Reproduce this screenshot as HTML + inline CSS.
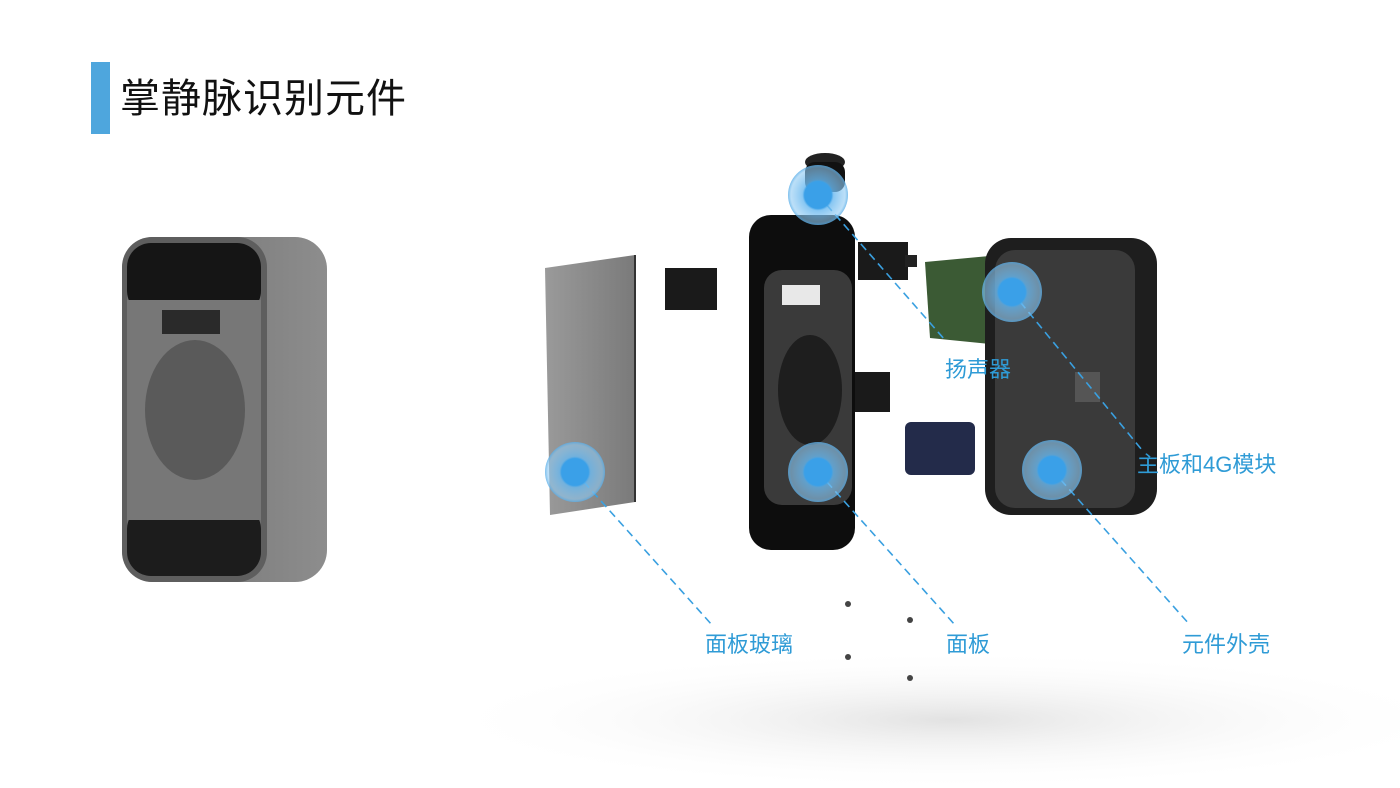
<!DOCTYPE html>
<html><head><meta charset="utf-8">
<style>
html,body{margin:0;padding:0;background:#fff;}
body{width:1400px;height:788px;overflow:hidden;position:relative;font-family:"Liberation Sans","Noto Sans CJK SC",sans-serif;}
.bar{position:absolute;left:91px;top:62px;width:19px;height:72px;background:#4ea6dd;}
.title{position:absolute;left:120px;top:74px;font-size:40px;line-height:50px;color:#111;letter-spacing:1px;font-weight:normal;}
.lbl{position:absolute;font-size:22px;color:#2f9bd6;line-height:26px;white-space:nowrap;}
</style></head><body>
<svg width="1400" height="788" style="position:absolute;left:0;top:0;overflow:hidden">
<defs>
<radialGradient id="sh" cx="0.5" cy="0.5" r="0.5">
<stop offset="0" stop-color="#e2e2e2"/><stop offset="1" stop-color="#ffffff" stop-opacity="0"/></radialGradient>
<radialGradient id="hot">
<stop offset="0" stop-color="#3aa0e8"/><stop offset="0.45" stop-color="#3aa0e8"/><stop offset="0.52" stop-color="#6bb9ef" stop-opacity="0.8"/><stop offset="0.9" stop-color="#8fcaf3" stop-opacity="0.6"/><stop offset="1" stop-color="#5aaee8" stop-opacity="0.8"/></radialGradient>
<linearGradient id="glass" x1="0" x2="1"><stop offset="0" stop-color="#9a9a9a"/><stop offset="1" stop-color="#7a7a7a"/></linearGradient>
<linearGradient id="side" x1="0" x2="1"><stop offset="0" stop-color="#6f6f6f"/><stop offset="1" stop-color="#8d8d8d"/></linearGradient>
</defs>
<ellipse cx="950" cy="720" rx="520" ry="70" fill="url(#sh)"/>
<rect x="122" y="237" width="205" height="345" rx="32" fill="url(#side)"/>
<rect x="122" y="237" width="145" height="345" rx="30" fill="#5e5e5e"/>
<rect x="127" y="243" width="134" height="333" rx="26" fill="#707070"/>
<rect x="127" y="243" width="134" height="72" rx="24" fill="#151515"/>
<rect x="127" y="505" width="134" height="71" rx="24" fill="#1c1c1c"/>
<rect x="127" y="300" width="134" height="220" fill="#777"/>
<rect x="162" y="310" width="58" height="24" fill="#2a2a2a"/>
<ellipse cx="195" cy="410" rx="50" ry="70" fill="#5a5a5a"/>
<polygon points="545,268 635,255 635,502 550,515" fill="url(#glass)"/>
<line x1="635" y1="255" x2="635" y2="502" stroke="#333" stroke-width="2"/>
<rect x="665" y="268" width="52" height="42" fill="#1a1a1a"/>
<rect x="749" y="215" width="106" height="335" rx="22" fill="#0d0d0d"/>
<rect x="764" y="270" width="88" height="235" rx="18" fill="#3a3a3a"/>
<rect x="782" y="285" width="38" height="20" fill="#e8e8e8"/>
<ellipse cx="810" cy="390" rx="32" ry="55" fill="#1e1e1e"/>
<rect x="855" y="372" width="35" height="40" fill="#1a1a1a"/>
<ellipse cx="825" cy="162" rx="20" ry="9" fill="#222"/>
<rect x="805" y="162" width="40" height="30" rx="10" fill="#111"/>
<rect x="858" y="242" width="50" height="38" fill="#1a1a1a"/>
<rect x="905" y="255" width="12" height="12" fill="#222"/>
<polygon points="925,262 1000,255 1000,345 930,338" fill="#3b5a34"/>
<rect x="985" y="238" width="172" height="277" rx="26" fill="#1e1e1e"/>
<rect x="995" y="250" width="140" height="258" rx="20" fill="#3a3a3a"/>
<rect x="1075" y="372" width="25" height="30" fill="#555"/>
<rect x="905" y="422" width="70" height="53" rx="6" fill="#232b4a"/>
<circle cx="848" cy="604" r="3" fill="#444"/><circle cx="910" cy="620" r="3" fill="#444"/>
<circle cx="848" cy="657" r="3" fill="#444"/><circle cx="910" cy="678" r="3" fill="#444"/>
<g stroke="#3aa0e0" stroke-width="1.6" stroke-dasharray="8,5" fill="none">
<line x1="818" y1="195" x2="945" y2="340"/>
<line x1="1012" y1="292" x2="1142" y2="450"/>
<line x1="575" y1="472" x2="712" y2="625"/>
<line x1="818" y1="472" x2="955" y2="625"/>
<line x1="1052" y1="470" x2="1190" y2="625"/>
</g>
<g>
<circle cx="818" cy="195" r="30" fill="url(#hot)"/>
<circle cx="1012" cy="292" r="30" fill="url(#hot)"/>
<circle cx="575" cy="472" r="30" fill="url(#hot)"/>
<circle cx="818" cy="472" r="30" fill="url(#hot)"/>
<circle cx="1052" cy="470" r="30" fill="url(#hot)"/>
</g>
</svg>
<div class="bar"></div>
<div class="title">掌静脉识别元件</div>
<div class="lbl" style="left:945px;top:357px">扬声器</div>
<div class="lbl" style="left:1137px;top:452px">主板和4G模块</div>
<div class="lbl" style="left:705px;top:632px">面板玻璃</div>
<div class="lbl" style="left:946px;top:632px">面板</div>
<div class="lbl" style="left:1182px;top:632px">元件外壳</div>
</body></html>
